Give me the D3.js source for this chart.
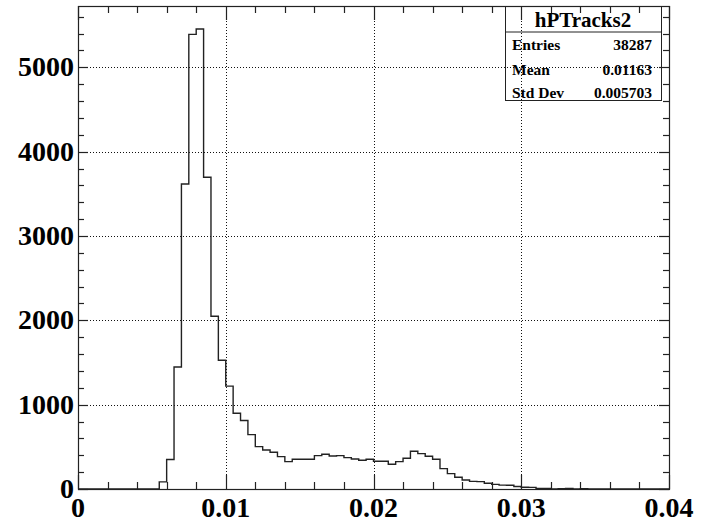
<!DOCTYPE html>
<html><head><meta charset="utf-8">
<script src="https://cdn.jsdelivr.net/npm/d3@7"></script>
<style>body{margin:0;background:#fff}svg{display:block}</style>
</head><body><svg id="c" width="709" height="523"></svg>
<script>
// ---- data ----
const binLow = 0, binHigh = 0.04, nBins = 80;
const counts = [
  0,0,0,0,0,0,0,0,0,0,
  0,85,350,1447,3616,5390,5454,3696,2049,1526,
  1220,899,812,645,503,463,436,384,325,352,
  352,352,396,412,392,396,372,356,341,352,
  329,329,293,325,364,447,420,388,352,242,
  182,139,107,91,88,68,55,46,44,30,
  21,19,7,6,0,5,6,0,4,0,
  0,0,0,0,0,0,0,0,0,0
];
const xTicks = [0, 0.01, 0.02, 0.03, 0.04];
const xTickLabels = ["0", "0.01", "0.02", "0.03", "0.04"];
const yTicks = [0, 1000, 2000, 3000, 4000, 5000];
const yTickLabels = ["0", "1000", "2000", "3000", "4000", "5000"];
const statsTitle = "hPTracks2";
const statsNames = ["Entries", "Mean", "Std Dev"];
const statsValues = ["38287", "0.01163", "0.005703"];

// ---- layout ----
const L = 78, R = 669, T = 6, B = 489;
const svg = d3.select("#c");
const font = "'Liberation Serif','Times New Roman',serif";
const ymax = d3.max(counts) * 1.05;
const x = d3.scaleLinear().domain([binLow, binHigh]).range([L, R]);
const y = d3.scaleLinear().domain([0, ymax]).range([B, T]);
const bw = (binHigh - binLow) / nBins;

svg.append("rect").attr("width", 709).attr("height", 523).attr("fill", "#fff");

// stats box
const sb = {x0: 505, x1: 661, y0: 6, y1: 100, sep: 31.5};
svg.append("rect").attr("x", sb.x0 + 0.5).attr("y", sb.y0 + 0.5)
  .attr("width", sb.x1 - sb.x0).attr("height", sb.y1 - sb.y0)
  .attr("fill", "#fff").attr("stroke", "#222").attr("stroke-width", 1);
svg.append("line").attr("x1", sb.x0).attr("x2", sb.x1 + 0.5)
  .attr("y1", sb.sep + 0.5).attr("y2", sb.sep + 0.5).attr("stroke", "#222");

// grid
const grid = svg.append("g").attr("stroke", "#111").attr("stroke-width", 1)
  .attr("stroke-dasharray", "1,2");
xTicks.filter(v => v > binLow && v < binHigh).forEach(v => {
  const px = Math.round(x(v)) + 0.5;
  grid.append("line").attr("x1", px).attr("x2", px).attr("y1", T).attr("y2", B);
});
yTicks.filter(v => v > 0).forEach(v => {
  const py = Math.round(y(v)) + 0.5;
  grid.append("line").attr("x1", L).attr("x2", R).attr("y1", py).attr("y2", py);
});

// histogram step outline
const pts = [[x(binLow), y(0)]];
counts.forEach((c, i) => {
  pts.push([x(binLow + i * bw), y(c)]);
  pts.push([x(binLow + (i + 1) * bw), y(c)]);
});
pts.push([x(binHigh), y(0)]);
svg.append("path").attr("d", d3.line()(pts)).attr("fill", "none")
  .attr("stroke", "#222").attr("stroke-width", 1.4);

// frame
svg.append("rect").attr("x", L + 0.5).attr("y", T + 0.5).attr("width", R - L).attr("height", B - T)
  .attr("fill", "none").attr("stroke", "#222").attr("stroke-width", 1.2);

// ticks
const tk = svg.append("g").attr("stroke", "#222").attr("stroke-width", 1.2);
const xMinor = d3.range(0, 21).map(i => i * 0.002);
xMinor.forEach((v, i) => {
  const px = Math.round(x(v)) + 0.5;
  const len = (i % 5 === 0) ? 14 : 7;
  tk.append("line").attr("x1", px).attr("x2", px).attr("y1", B).attr("y2", B - len);
  tk.append("line").attr("x1", px).attr("x2", px).attr("y1", T).attr("y2", T + len);
});
const yMinor = d3.range(0, Math.floor(ymax / 200) + 1).map(i => i * 200);
yMinor.forEach((v, i) => {
  const py = Math.round(y(v)) + 0.5;
  const len = (i % 5 === 0) ? 10 : 6;
  tk.append("line").attr("x1", L).attr("x2", L + len).attr("y1", py).attr("y2", py);
  tk.append("line").attr("x1", R).attr("x2", R - len).attr("y1", py).attr("y2", py);
});

// tick labels
xTicks.forEach((v, i) => {
  svg.append("text").attr("x", x(v)).attr("y", 517).attr("text-anchor", "middle")
    .attr("font-family", font).attr("font-weight", "bold").attr("font-size", 28)
    .attr("fill", "#000").text(xTickLabels[i]);
});
yTicks.forEach((v, i) => {
  svg.append("text").attr("x", 74).attr("y", y(v) + 9).attr("text-anchor", "end")
    .attr("font-family", font).attr("font-weight", "bold").attr("font-size", 28)
    .attr("fill", "#000").text(yTickLabels[i]);
});

// stats text
svg.append("text").attr("x", (sb.x0 + sb.x1) / 2).attr("y", 27).attr("text-anchor", "middle")
  .attr("font-family", font).attr("font-weight", "bold").attr("font-size", 21).text(statsTitle);
const rowY = [50, 75, 98];
statsNames.forEach((n, i) => {
  svg.append("text").attr("x", 512).attr("y", rowY[i])
    .attr("font-family", font).attr("font-weight", "bold").attr("font-size", 15.5).text(n);
  svg.append("text").attr("x", 652).attr("y", rowY[i]).attr("text-anchor", "end")
    .attr("font-family", font).attr("font-weight", "bold").attr("font-size", 15.5).text(statsValues[i]);
});
</script></body></html>
